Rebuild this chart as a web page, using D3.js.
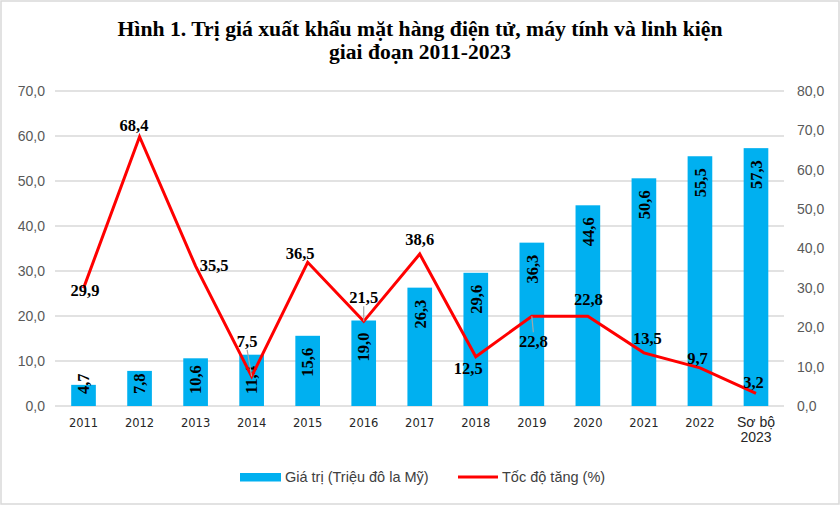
<!DOCTYPE html>
<html>
<head>
  <meta charset="utf-8">
  <title>Hình 1</title>
  <script src="https://cdnjs.cloudflare.com/ajax/libs/d3/7.8.5/d3.min.js"></script>
  <style>
    body { margin: 0; background: #fff; }
    .grid line { stroke: #d9d9d9; stroke-width: 1.3px; }
    .axis text { font-family: "Liberation Sans", Arial, sans-serif; font-size: 14px; fill: #595959; }
    .axis--x text { font-family: "DejaVu Sans", sans-serif; font-size: 11.5px; fill: #262626; }
    .line { fill: none; stroke: #ff0000; stroke-width: 3px; }
    .lbl { font-family: "Liberation Serif", "Times New Roman", serif; font-weight: bold; font-size: 16.5px; fill: #000; }
  </style>
</head>
<body>
<svg width="840" height="505"></svg>
<script>
// data
var categories = ["2011", "2012", "2013", "2014", "2015", "2016", "2017",
                  "2018", "2019", "2020", "2021", "2022", "Sơ bộ 2023"];
var giaTri = [4.7, 7.8, 10.6, 11.4, 15.6, 19.0, 26.3, 29.6, 36.3, 44.6, 50.6, 55.5, 57.3];
var tocDo = [29.9, 68.4, 35.5, 7.5, 36.5, 21.5, 38.6, 12.5, 22.8, 22.8, 13.5, 9.7, 3.2];
var leftTicks = [0, 10, 20, 30, 40, 50, 60, 70];
var rightTicks = [0, 10, 20, 30, 40, 50, 60, 70, 80];
var seriesNames = ["Giá trị (Triệu đô la Mỹ)", "Tốc độ tăng (%)"];
var titleLines = ["Hình 1. Trị giá xuất khẩu mặt hàng điện tử, máy tính và linh kiện",
                  "giai đoạn 2011-2023"];

var fmt = function(d) { return d.toFixed(1).replace(".", ","); };

var svg = d3.select("svg");

// outer frame
svg.append("rect")
    .attr("x", 1).attr("y", 1)
    .attr("width", 838).attr("height", 503)
    .attr("fill", "#fff")
    .attr("stroke", "#d9d9d9")
    .attr("stroke-width", 1.5);

// title
svg.selectAll(".title")
    .data(titleLines)
  .enter().append("text")
    .attr("class", "title")
    .attr("x", 420)
    .attr("y", function(d, i) { return 36 + i * 22.5; })
    .attr("text-anchor", "middle")
    .attr("font-family", "Liberation Serif, Times New Roman, serif")
    .attr("font-weight", "bold")
    .attr("font-size", "20.5px")
    .attr("textLength", function(d, i) { return i === 0 ? 605 : 182; })
    .attr("lengthAdjust", "spacingAndGlyphs")
    .text(function(d) { return d; });

var x = d3.scaleBand()
    .domain(categories)
    .range([55.5, 784])
    .paddingInner(0.56)
    .paddingOuter(0.28);

var yL = d3.scaleLinear().domain([0, 70]).range([406, 91]);
var yR = d3.scaleLinear().domain([0, 80]).range([406, 91]);

// gridlines follow the left axis
svg.append("g")
    .attr("class", "grid")
  .selectAll("line")
    .data(leftTicks)
  .enter().append("line")
    .attr("x1", 55).attr("x2", 784)
    .attr("y1", function(d) { return yL(d); })
    .attr("y2", function(d) { return yL(d); });

svg.append("g")
    .attr("class", "axis axis--y")
    .attr("transform", "translate(55,0)")
    .call(d3.axisLeft(yL).tickValues(leftTicks).tickFormat(fmt).tickSize(0).tickPadding(10))
    .call(function(g) { g.select(".domain").remove(); });

svg.append("g")
    .attr("class", "axis axis--y2")
    .attr("transform", "translate(784,0)")
    .call(d3.axisRight(yR).tickValues(rightTicks).tickFormat(fmt).tickSize(0).tickPadding(13))
    .call(function(g) { g.select(".domain").remove(); });

var xAxis = svg.append("g")
    .attr("class", "axis axis--x")
    .attr("transform", "translate(0,406)")
    .call(d3.axisBottom(x).tickSize(0).tickPadding(13))
    .call(function(g) { g.select(".domain").remove(); });

// last category goes on two lines
xAxis.selectAll(".tick text").each(function(d) {
  if (d.indexOf("Sơ bộ") === 0) {
    var t = d3.select(this).text("")
        .style("font-family", "Liberation Sans, Arial, sans-serif")
        .style("font-size", "14px");
    t.append("tspan").attr("x", 0).attr("dy", "0.71em").text("Sơ bộ");
    t.append("tspan").attr("x", 0).attr("dy", "1.1em").text("2023");
    t.attr("dy", null).attr("y", 11);
  }
});

// bars
svg.append("g")
  .selectAll("rect")
    .data(giaTri)
  .enter().append("rect")
    .attr("x", function(d, i) { return x(categories[i]); })
    .attr("y", function(d) { return yL(d); })
    .attr("width", x.bandwidth())
    .attr("height", function(d) { return yL(0) - yL(d); })
    .attr("fill", "#00b0f0");

// bar labels, rotated, inside end
var barLbl = svg.append("g")
  .selectAll("text")
    .data(giaTri)
  .enter().append("text")
    .attr("class", "lbl")
    .attr("text-anchor", "start")
    .attr("dy", "0.35em")
    .text(fmt);

barLbl.each(function(d, i) {
  var len = this.getComputedTextLength();
  var cx = x(categories[i]) + x.bandwidth() / 2;
  var bottom = Math.min(yL(d) + 12 + len, yL(0) - 12);
  d3.select(this).attr("transform", "translate(" + cx + "," + bottom + ") rotate(-90)");
});

// growth line on the right axis
var line = d3.line()
    .x(function(d, i) { return x(categories[i]) + x.bandwidth() / 2; })
    .y(function(d) { return yR(d); });

svg.append("path")
    .datum(tocDo)
    .attr("class", "line")
    .attr("d", line);

// label placement for the line values (dx, dy from the point)
var lineOff = [[1.5, 2], [-5.5, -11], [18.5, -1], [-4.5, -35.5], [-7.5, -9], [0, -24], [0, -15],
               [-7.5, 11], [1.5, 25], [0.5, -17], [3.5, -15], [-2.5, -10], [-2.5, -11]];

var lineLbl = svg.append("g");

tocDo.forEach(function(d, i) {
  var px = x(categories[i]) + x.bandwidth() / 2,
      py = yR(d),
      o = lineOff[i];
  if (Math.abs(o[1]) > 20) {
    var s = o[1] > 0 ? 1 : -1;
    lineLbl.append("line")
        .attr("x1", px).attr("y1", py)
        .attr("x2", px + o[0]).attr("y2", py + o[1] - s * 9)
        .attr("stroke", "#a6a6a6")
        .attr("stroke-width", 1.2);
  }
  lineLbl.append("text")
      .attr("class", "lbl")
      .attr("x", px + o[0])
      .attr("y", py + o[1])
      .attr("dy", "0.35em")
      .attr("text-anchor", "middle")
      .text(fmt(d));
});

// legend
var legend = svg.append("g")
    .attr("font-family", "Liberation Sans, Arial, sans-serif")
    .attr("font-size", "14.5px")
    .attr("fill", "#404040");

legend.append("rect")
    .attr("x", 240).attr("y", 473)
    .attr("width", 41).attr("height", 8.5)
    .attr("fill", "#00b0f0");
legend.append("text")
    .attr("x", 285).attr("y", 477).attr("dy", "0.35em")
    .text(seriesNames[0]);

legend.append("line")
    .attr("x1", 458).attr("x2", 498)
    .attr("y1", 477).attr("y2", 477)
    .attr("stroke", "#ff0000")
    .attr("stroke-width", 3);
legend.append("text")
    .attr("x", 502).attr("y", 477).attr("dy", "0.35em")
    .text(seriesNames[1]);
</script>
</body>
</html>
